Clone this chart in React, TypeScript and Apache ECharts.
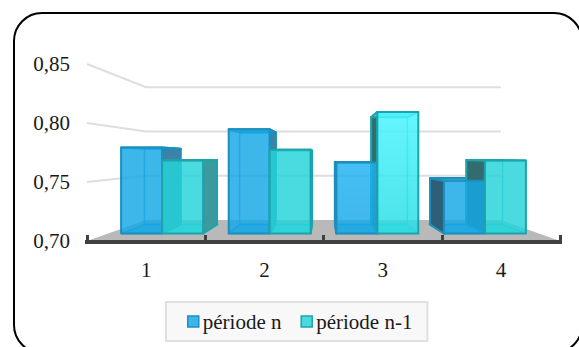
import React, { useEffect, useRef } from "react";
import * as echarts from "echarts";

const quarters = ["1", "2", "3", "4"];
const valueTicks = [0.7, 0.75, 0.8, 0.85];
const periodN = [0.78, 0.797, 0.766, 0.749];
const periodN1 = [0.768, 0.778, 0.813, 0.768];
const litBars = [false, false, true, false];
const nameN = "période n";
const nameN1 = "période n-1";

const FONT = "'Liberation Serif', serif";
const HORIZON_Y = 157; // vanishing point row
const MID_X_SHARE = 0.5; // vanishing point column, as share of the plot width
const WALL_DEPTH = 0.25;
const BAR_FRONT = 0.09;
const BAR_BACK = 0.195;
const BAR_SHARE = 0.381;

type Pt = number[];

const palette = {
  n: {
    front: "rgba(22,167,230,0.83)",
    lit: {
      type: "linear", x: 0, y: 0, x2: 0, y2: 1,
      colorStops: [
        { offset: 0, color: "rgba(32,178,242,0.83)" },
        { offset: 1, color: "rgba(22,167,230,0.83)" },
      ],
    },
    edge: "#1c8fbd",
    inner: "rgba(25,145,205,0.7)",
    floor: "rgba(40,175,235,0.5)",
    sideRight: "#3a83a6",
    sideLeft: "#2d5f78",
  },
  n1: {
    front: "rgba(36,212,218,0.83)",
    lit: {
      type: "linear", x: 0, y: 0, x2: 0, y2: 1,
      colorStops: [
        { offset: 0, color: "rgba(74,245,255,0.85)" },
        { offset: 1, color: "rgba(38,220,228,0.83)" },
      ],
    },
    edge: "#1fa3aa",
    inner: "rgba(40,195,205,0.8)",
    floor: "rgba(60,225,225,0.5)",
    sideRight: "#3c9a9c",
    sideLeft: "#336c6e",
  },
};

function App() {
  const ref = useRef<HTMLDivElement>(null);

  useEffect(() => {
    document.body.style.margin = "0";
    const chart = echarts.init(ref.current!, undefined, { renderer: "svg" });

    const towards = (p: Pt, vp: Pt, t: number): Pt => [
      p[0] + (vp[0] - p[0]) * t,
      p[1] + (vp[1] - p[1]) * t,
    ];
    const vanishing = (params: any): Pt => [
      params.coordSys.x + params.coordSys.width * MID_X_SHARE,
      HORIZON_Y,
    ];
    const poly = (points: Pt[], style: any, z2: number) => ({
      type: "polygon",
      shape: { points },
      style,
      z2,
    });

    const barRenderer = (colors: typeof palette.n, side: number) => (params: any, api: any) => {
      const cat = api.value(0);
      const top = api.coord([cat, api.value(1)]);
      const base = api.coord([cat, valueTicks[0]]);
      const w = api.size([1, 0])[0] * BAR_SHARE;
      const x0 = side < 0 ? top[0] - w : top[0];
      const x1 = x0 + w;
      const vp = vanishing(params);
      const at = (x: number, y: number, t: number) => towards([x, y], vp, t);

      const fTL = at(x0, top[1], BAR_FRONT);
      const fTR = at(x1, top[1], BAR_FRONT);
      const fBL = at(x0, base[1], BAR_FRONT);
      const fBR = at(x1, base[1], BAR_FRONT);
      const bTL = at(x0, top[1], BAR_BACK);
      const bTR = at(x1, top[1], BAR_BACK);
      const bBL = at(x0, base[1], BAR_BACK);
      const bBR = at(x1, base[1], BAR_BACK);

      const solidEdge = { stroke: colors.edge, lineWidth: 2, lineJoin: "round" };
      const thinEdge = { stroke: colors.inner, lineWidth: 1.5 };
      const frontFill = litBars[cat] ? colors.lit : colors.front;
      const children: any[] = [];

      // the inner faces show through the front pane
      children.push(poly([bTL, bTR, bBR, bBL], { fill: "rgba(255,255,255,0)", ...thinEdge }, 1));
      children.push(poly([fBL, fBR, bBR, bBL], { fill: colors.floor, ...thinEdge }, 2));

      // whichever flank faces the vanishing point is the one seen from outside
      if (x1 < vp[0]) {
        children.push(poly([fTR, bTR, bBR, fBR], { fill: colors.sideRight, ...solidEdge }, 3));
      } else if (x0 > vp[0]) {
        children.push(poly([fTL, bTL, bBL, fBL], { fill: colors.sideLeft, ...solidEdge }, 3));
      }
      children.push(poly([fTL, fTR, bTR, bTL], { fill: frontFill, ...solidEdge }, 3));
      children.push(poly([fTL, fTR, fBR, fBL], { fill: frontFill, ...solidEdge }, 4));
      return { type: "group", children };
    };

    const floorRenderer = (params: any, api: any) => {
      const half = api.size([1, 0])[0] / 2;
      const vp = vanishing(params);
      const y = api.coord([0, valueTicks[0]])[1];
      const left = api.coord([0, valueTicks[0]])[0] - half;
      const right = api.coord([quarters.length - 1, valueTicks[0]])[0] + half;
      return poly(
        [[left, y], towards([left, y], vp, WALL_DEPTH), towards([right, y], vp, WALL_DEPTH), [right, y]],
        { fill: "#b9b9b9" },
        0,
      );
    };

    const wallRenderer = (params: any, api: any) => {
      const v = api.value(0);
      const half = api.size([1, 0])[0] / 2;
      const vp = vanishing(params);
      const start = api.coord([0, v]);
      const end = api.coord([quarters.length - 1, v]);
      const front: Pt = [start[0] - half, start[1]];
      const farRight = towards([end[0] + half, end[1]], vp, WALL_DEPTH);
      return {
        type: "polyline",
        shape: { points: [front, towards(front, vp, WALL_DEPTH), farRight] },
        style: { stroke: "#dedede", lineWidth: 2, fill: "none" },
        z2: 0,
      };
    };

    chart.setOption({
      animation: false,
      backgroundColor: "#ffffff",
      graphic: [
        {
          type: "rect",
          z: -1,
          shape: { x: 14, y: 13, width: 568, height: 340, r: 28 },
          style: { fill: "#ffffff", stroke: "#000000", lineWidth: 2 },
        },
      ],
      grid: { left: 87, right: 19, top: 64, bottom: 106 },
      legend: {
        left: 166,
        top: 302,
        padding: [9, 15, 9, 21],
        itemGap: 19,
        itemWidth: 11,
        itemHeight: 11,
        borderColor: "#e0e0e0",
        borderWidth: 2,
        backgroundColor: "#f8f8f8",
        textStyle: { fontFamily: FONT, fontSize: 21, color: "#1a1a1a", padding: [0, 0, 0, -1] },
        data: [
          {
            name: nameN,
            icon: "rect",
            itemStyle: { color: "#3db6ea", borderColor: "#1c8fbd", borderWidth: 1.5 },
          },
          {
            name: nameN1,
            icon: "rect",
            itemStyle: { color: "#49dbe0", borderColor: "#1fa3aa", borderWidth: 1.5 },
          },
        ],
      },
      xAxis: {
        type: "category",
        data: quarters,
        z: 5,
        offset: 1,
        axisLine: { lineStyle: { color: "#404040", width: 4, cap: "square" } },
        axisTick: { show: true, inside: true, length: 7, lineStyle: { color: "#404040", width: 3 } },
        axisLabel: { fontFamily: FONT, fontSize: 21, color: "#1a1a1a", margin: 17 },
      },
      yAxis: {
        type: "value",
        min: valueTicks[0],
        max: valueTicks[valueTicks.length - 1],
        interval: 0.05,
        splitLine: { show: false },
        axisLine: { show: false },
        axisTick: { show: false },
        axisLabel: {
          fontFamily: FONT,
          fontSize: 21,
          color: "#1a1a1a",
          margin: 17,
          formatter: (v: number) => v.toFixed(2).replace(".", ","),
        },
      },
      series: [
        {
          type: "custom",
          name: "sol",
          data: [[valueTicks[0]]],
          renderItem: floorRenderer,
          encode: { y: 0 },
          silent: true,
          z: 1,
        },
        {
          type: "custom",
          name: "grille",
          data: valueTicks.slice(1).map((v) => [v]),
          renderItem: wallRenderer,
          encode: { y: 0 },
          silent: true,
          z: 1,
        },
        {
          type: "custom",
          name: nameN,
          data: periodN.map((v, i) => [i, v]),
          renderItem: barRenderer(palette.n, -1),
          encode: { x: 0, y: 1 },
          itemStyle: { color: "#3db6ea" },
          z: 2,
        },
        {
          type: "custom",
          name: nameN1,
          data: periodN1.map((v, i) => [i, v]),
          renderItem: barRenderer(palette.n1, 1),
          encode: { x: 0, y: 1 },
          itemStyle: { color: "#49dbe0" },
          z: 2,
        },
      ],
    });

    return () => chart.dispose();
  }, []);

  return <div ref={ref} style={{ width: 579, height: 347 }} />;
}

export default App;
